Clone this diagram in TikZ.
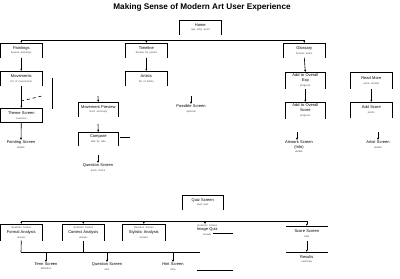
\documentclass[tikz,border=0pt]{standalone}
\usepackage{fontspec}
\setmainfont{Liberation Sans}
\usetikzlibrary{arrows.meta}
\newcommand\cardf{\fontsize{4}{4.8}\selectfont}
\newcommand\subf{\fontsize{2.6}{3.2}\selectfont\color{black!70}}
\newcommand\titlef{\fontsize{8.2}{9}\selectfont\bfseries}
\tikzset{
  every path/.style={line width=0.6pt},
  card/.style={anchor=north west, inner sep=0pt, minimum width=42pt, minimum height=14pt,
    text width=42pt, align=center, font=\cardf,
    append after command={(\tikzlastnode.south west) edge (\tikzlastnode.north west)
      (\tikzlastnode.north west) edge (\tikzlastnode.north east)
      (\tikzlastnode.north east) edge (\tikzlastnode.south east)}},
  topcard/.style={anchor=north west, inner sep=0pt, minimum width=42pt, minimum height=14pt,
    text width=42pt, align=center, font=\cardf,
    append after command={(\tikzlastnode.north west) edge (\tikzlastnode.north east)}},
  plain/.style={anchor=north, inner sep=0pt, text width=46pt, align=center, font=\cardf},
  arr/.style={-{Latex[length=2.2pt,width=2.2pt]}},
}
\begin{document}
\begin{tikzpicture}[x=1pt,y=-1pt]
\useasboundingbox (0,0) rectangle (400,279);
\node[font=\titlef] (title) at (202,7) {Making Sense of Modern Art User Experience};
% root
\node[card] (home) at (179,20) {Home\\{\subf app entry point}};
\coordinate (b0) at (21,40);
\coordinate (b3) at (304,40);
\draw (b0) -- (b3);
% level 1
\node[card] (paint) at (0,43) {Paintings\\{\subf browse paintings}};
\node[card] (time) at (125,43) {Timeline\\{\subf browse by period}};
\node[card] (gloss) at (283,43) {Glossary\\{\subf browse terms}};
\draw[arr] (paint.north |- b0) -- (paint.north);
\draw[arr] (time.north |- b0) -- (time.north);
\draw[arr] (gloss.north |- b0) -- (gloss.north);
% left column
\node[card] (mov) at (0,71) {Movements\\{\subf list of movements}};
\draw[arr] (paint.south) -- (mov.north);
\coordinate (v1) at (52,78);
\coordinate (v2) at (52,109);
\draw (v1) -- (v2);
\coordinate (d1) at (21,101);
\coordinate (d2) at (42,96);
\draw[dashed] (d1) -- (d2);
\node[card] (theme) at (0,108) {Theme Screen\\{\subf overview}};
\draw (theme.south west) -- (theme.south east);
\draw[arr] (mov.south) -- (theme.north);
\node[plain] (pscr) at (21,140) {Painting Screen\\{\subf details}};
\draw[arr] (theme.south) -- (pscr.north);
% middle column
\node[card] (art) at (125,71) {Artists\\{\subf list of artists}};
\draw[arr] (time.south) -- (art.north);
\node[card, minimum width=40pt, text width=40pt] (prev) at (78,102) {Movement Preview\\{\subf short summary}};
\coordinate (s1) at (98,96);
\draw[arr] (s1) -- (prev.north);
\node[plain] (poss) at (191,104) {Possible Screen\\{\subf optional}};
\coordinate (s2) at (191,96);
\draw[arr] (s2) -- (poss.north);
\node[card, minimum width=40pt, text width=40pt, minimum height=13pt] (comp) at (78,132) {Compare\\{\subf side by side}};
\coordinate (s3) at (98,124);
\draw[arr] (s3) -- (comp.north);
\coordinate (h1) at (120,137);
\coordinate (h2) at (130,137);
\draw (h1) -- (h2);
\node[plain] (ques) at (98,163) {Question Screen\\{\subf quick check}};
\coordinate (s4) at (98,155);
\draw[arr] (s4) -- (ques.north);
% right column
\node[card, minimum width=40pt, text width=40pt, minimum height=16pt] (add1) at (285,72) {Add to Overall\\Exp\\{\subf progress}};
\draw[arr] (gloss.south) -- (add1.north);
\node[card, minimum height=16pt] (r1) at (350,72) {Read More\\{\subf extra content}};
\node[card, minimum width=40pt, text width=40pt, minimum height=16pt] (add2) at (285,102) {Add to Overall\\Score\\{\subf progress}};
\draw[arr] (add1.south) -- (add2.north);
\node[card, minimum height=15pt] (r2) at (350,102) {Add Score\\{\subf points}};
\draw[arr] (r1.south) -- (r2.north);
\node[plain] (artw) at (299,140) {Artwork Screen\\(Info)\\{\subf details}};
\coordinate (s5) at (297,132);
\draw[arr] (s5) -- (artw.north -| s5);
\node[plain] (arts) at (378,140) {Artist Screen\\{\subf details}};
\coordinate (s6) at (378,132);
\draw[arr] (s6) -- (arts.north);
% quiz section
\node[card, minimum width=41pt, text width=41pt] (quiz) at (182,195) {Quiz Screen\\{\subf start quiz}};
\coordinate (q0) at (21,221);
\coordinate (q9) at (307,221);
\draw (q0) -- (q9);
\node[card, minimum height=16pt] (qa) at (0,224) {{\subf Question Screen}\\Formal Analysis\\{\subf answer}};
\node[card, minimum height=16pt] (qb) at (62,224) {{\subf Question Screen}\\Context Analysis\\{\subf answer}};
\node[card, minimum height=16pt, minimum width=43pt, text width=43pt] (qc) at (122,224) {{\subf Question Screen}\\Stylistic Analysis\\{\subf answer}};
\node[plain, anchor=north west, text width=44pt] (qd) at (185,224) {{\subf Question Screen}\\Image Quiz\\{\subf answer}};
\node[topcard, minimum width=41pt, text width=41pt] (score) at (286,226) {Score Screen\\{\subf total}};
\draw[arr] (qa.north |- q0) -- (qa.north);
\draw[arr] (qb.north |- q0) -- (qb.north);
\draw[arr] (qc.north |- q0) -- (qc.north);
\coordinate (qdx) at (205,221);
\draw[arr] (qdx) -- (qdx |- qd.north);
\draw[arr] (score.north |- q9) -- (score.north);
\node[topcard, minimum width=41pt, text width=41pt] (res) at (286,252) {Results\\{\subf summary}};
\draw[arr] (score.south) -- (res.north);
\coordinate (e1) at (213,233);
\coordinate (e2) at (233,233);
\draw (e1) -- (e2);
% lower bus
\coordinate (l0) at (21,252);
\coordinate (l9) at (200,252);
\draw (qa.south) -- (l0);
\draw (qb.south) -- (qb.south |- l0);
\draw (l0) -- (l9);
\node[plain] (term) at (46,262) {Term Screen\\{\subf definition}};
\node[plain] (qs) at (107,262) {Question Screen\\{\subf next}};
\node[plain] (hint) at (173,262) {Hint Screen\\{\subf help}};
\draw[arr] (term.north |- l0) -- (term.north);
\draw[arr] (qs.north |- l0) -- (qs.north);
\draw[arr] (hint.north |- l0) -- (hint.north);
\coordinate (f1) at (197,270);
\coordinate (f2) at (233,270);
\draw (f1) -- (f2);
\end{tikzpicture}
\end{document}
